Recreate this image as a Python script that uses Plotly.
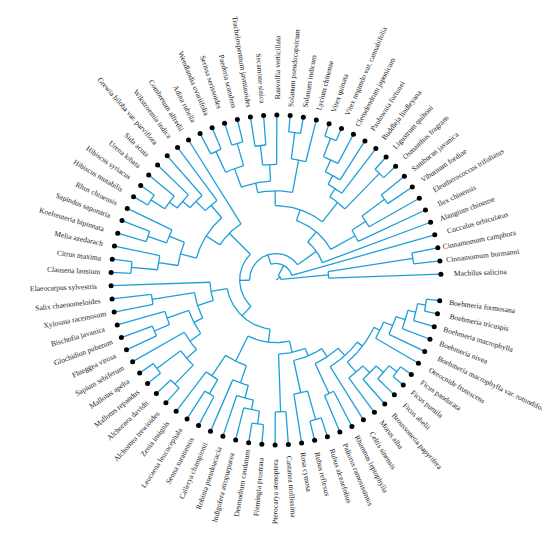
import math
import plotly.graph_objects as go

# tree topology: internal node = (radius, [children]); leaf = name
magnoliids = (0.32, ["Machilus salicina", (0.84, ["Cinnamomum burmanni", "Cinnamomum camphora"])])
lamiales = (0.6, [(0.9, ["Osmanthus fragrans", "Ligustrum quihoui"]),
                  (0.66, ["Buddleja lindleyana", (0.72, ["Paulownia fortunei",
                   (0.8, ["Clerodendrum japonicum", (0.92, ["Vitex negundo var. cannabifolia", "Vitex quinata"])])])])])
solanales = (0.74, ["Lycium chinense", (0.9, ["Solanum indicum", "Solanum pseudocapsicum"])])
gentianales = (0.6, [(0.7, ["Rauvolfia verticillata", (0.82, ["Secamone sinica", "Trachelospermum jasminoides"])]),
                     (0.72, [(0.86, ["Paederia scandens", "Serissa serissoides"]),
                             (0.86, ["Wendlandia uvariifolia", "Adina rubella"])])])
lamiids = (0.45, [lamiales, (0.54, [solanales, gentianales])])
asterids = (0.3, ["Alangium chinense", (0.38, [(0.55, ["Ilex chinensis", (0.65, ["Eleutherococcus trifoliatus",
              (0.82, ["Viburnum fordiae", "Sambucus javanica"])])]), lamiids])])
malvales = (0.6, ["Wikstroemia indica", (0.68, ["Grewia biloba var. parviflora", (0.74, ["Sida acuta",
              (0.8, ["Urena lobata", (0.9, ["Hibiscus syriacus", "Hibiscus mutabilis"])])])])])
sapindales = (0.6, [(0.7, ["Rhus chinensis", (0.82, ["Sapindus saponaria", "Koelreuteria bipinnata"])]),
                    (0.72, ["Melia azedarach", (0.88, ["Citrus maxima", "Clausena lansium"])])])
malvids = (0.4, ["Combretum alfredii", (0.5, [malvales, sapindales])])
malpighiales = (0.5, [(0.76, ["Salix chaenomeloides", "Xylosma racemosum"]),
                      (0.56, [(0.7, ["Bischofia javanica", (0.8, ["Glochidion puberum", "Flueggea virosa"])]),
                              (0.64, ["Sapium sebiferum", (0.72, [(0.9, ["Mallotus apelta", "Mallotus repandus"]),
                                                                  (0.88, ["Alchornea davidii", "Alchornea trewioides"])])])])])
fabales = (0.55, [(0.7, ["Zenia insignis", (0.8, ["Leucaena leucocephala", "Senna surattensis"])]),
                  (0.66, ["Callerya championii", (0.74, ["Robinia pseudoacacia", (0.8, ["Indigofera atropurpurea",
                   (0.88, ["Desmodium caudatum", "Flemingia prostrata"])])])])])
fagales = (0.8, ["Pterocarya stenoptera", "Castanea mollissima"])
rosales = (0.5, [(0.7, ["Rosa cymosa", (0.88, ["Rubus reflexus", "Rubus alceaefolius"])]),
                 (0.56, [(0.76, ["Paliurus ramosissimus", "Rhamnus leptophylla"]),
                         (0.62, ["Celtis sinensis", (0.66, [
                             (0.74, ["Morus alba", (0.8, ["Broussonetia papyrifera", (0.86, ["Ficus abelii",
                              (0.92, ["Ficus pumila", "Ficus pandurata"])])])]),
                             (0.7, ["Oreocnide frutescens", (0.76, ["Boehmeria macrophylla var. rotundifolia",
                              (0.82, ["Boehmeria nivea", (0.87, ["Boehmeria macrophylla",
                               (0.92, ["Boehmeria tricuspis", "Boehmeria formosana"])])])])])])])])])
fabids = (0.3, [(0.4, ["Elaeocarpus sylvestris", malpighiales]), (0.38, [fabales, (0.45, [fagales, rosales])])])
rosids = (0.22, [malvids, fabids])
tree = (0.03, [magnoliids, (0.1, ["Cocculus orbiculatus", (0.16, [asterids, rosids])])])

start_angle = 2.0
n_slots = 78
line_color = "#1e9fd8"

leaves = []
def collect(node):
    if isinstance(node, str):
        leaves.append(node)
    else:
        for c in node[1]:
            collect(c)
collect(tree)
step = 360.0 / n_slots
leaf_angle = {name: start_angle + i * step for i, name in enumerate(leaves)}

xs, ys = [], []
def seg_radial(a, r0, r1):
    t = math.radians(a)
    xs.extend([r0 * math.cos(t), r1 * math.cos(t), None])
    ys.extend([r0 * math.sin(t), r1 * math.sin(t), None])

def seg_arc(a0, a1, r):
    n = max(2, int(abs(a1 - a0)) + 2)
    for k in range(n):
        t = math.radians(a0 + (a1 - a0) * k / (n - 1))
        xs.append(r * math.cos(t)); ys.append(r * math.sin(t))
    xs.append(None); ys.append(None)

def layout(node, parent_r):
    if isinstance(node, str):
        a = leaf_angle[node]
        seg_radial(a, parent_r, 1.0)
        return a
    r, children = node
    angs = [layout(c, r) for c in children]
    a = (min(angs) + max(angs)) / 2
    seg_arc(min(angs), max(angs), r)
    seg_radial(a, parent_r, r)
    return a

layout(tree, 0.0)

fig = go.Figure()
fig.add_trace(go.Scatter(x=xs, y=ys, mode="lines", line=dict(color=line_color, width=1.3), hoverinfo="skip"))
fig.add_trace(go.Scatter(
    x=[math.cos(math.radians(leaf_angle[n])) for n in leaves],
    y=[math.sin(math.radians(leaf_angle[n])) for n in leaves],
    mode="markers", marker=dict(color="black", size=5), text=leaves, hoverinfo="text"))

char_w = 3.3 / 165.0
for name in leaves:
    a = leaf_angle[name]
    r = 1.07 + len(name) * char_w / 2
    t = math.radians(a)
    ang = a % 360
    rot = -ang if (ang < 90 or ang > 270) else -(ang - 180)
    fig.add_annotation(x=r * math.cos(t), y=r * math.sin(t), text=name, showarrow=False,
                       textangle=rot, xanchor="center", yanchor="middle",
                       font=dict(family="Liberation Serif", size=7.5, color="#222"))

# pixel scale ~165 per unit, centre near (268, 272)
fig.update_layout(
    width=550, height=545, margin=dict(l=0, r=0, t=0, b=0),
    plot_bgcolor="white", paper_bgcolor="white", showlegend=False,
    xaxis=dict(range=[-1.624, 1.709], visible=False),
    yaxis=dict(range=[-1.655, 1.648], visible=False),
)
fig.write_html("out.html")
